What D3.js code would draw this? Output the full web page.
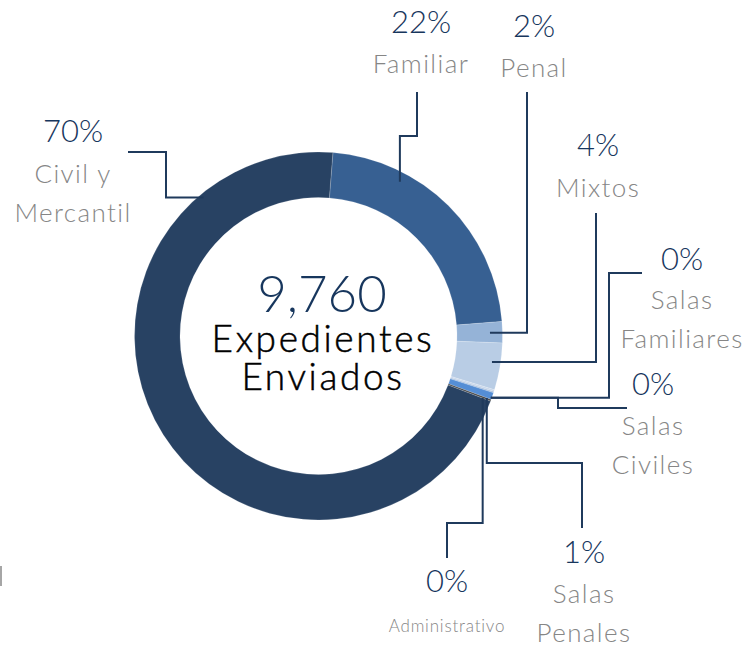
<!DOCTYPE html>
<html>
<head>
<meta charset="utf-8">
<script src="https://cdn.jsdelivr.net/npm/d3@7"></script>
<style>
  html, body { margin: 0; padding: 0; background: #fff; }
  svg { display: block; }
  .pct { fill: #17365d; font-family: Lato, sans-serif; font-weight: 300; }
  .name { fill: #868686; font-family: Lato, sans-serif; font-weight: 300; }
  .leader { fill: none; stroke: #1f3a5c; stroke-width: 2; }
</style>
</head>
<body>
<div class="svg-container"></div>
<script>
// data (total 9,760)
const categories = ["Familiar", "Penal", "Mixtos", "Salas Familiares", "Salas Civiles", "Salas Penales", "Administrativo", "Civil y Mercantil"];
const values = [2195, 182, 402, 15, 12, 60, 14, 6880];
const colors = ["#376092", "#95b3d7", "#b9cde5", "#c9d7ea", "#a7bedc", "#558ed5", "#404040", "#284263"];
const centerLines = ["Expedientes", "Enviados"];

const width = 751, height = 649;
const cx = 318.5, cy = 336;
const outerR = 184, innerR = 138.5;
const toRad = function(deg) { return deg * Math.PI / 180; };

// label layout: where each label sits and how its leader line runs
// anchor = point on the ring (deg clockwise from top, radius), steps = h/v moves
const labelLayout = {
  "Civil y Mercantil": {x: 73, pctY: 142, nameY: 183, wrap: 2, anchor: [320.3, 180], steps: [["h", 166], ["v", 152], ["h", 128]]},
  "Familiar": {x: 421, pctY: 33, nameY: 73, anchor: [27.8, 174.5], steps: [["v", 136], ["h", 417], ["v", 92]]},
  "Penal": {x: 534, pctY: 37, nameY: 77, anchor: [88.9, 171.5], steps: [["h", 527], ["v", 92]]},
  "Mixtos": {x: 598, pctY: 156, nameY: 197, anchor: [98.5, 175.4], steps: [["h", 596], ["v", 213]]},
  "Salas Familiares": {x: 682, pctY: 270, nameY: 309, wrap: 1, anchor: [109.7, 183], steps: [["h", 609], ["v", 273], ["h", 642]]},
  "Salas Civiles": {x: 653, pctY: 395, nameY: 435, wrap: 1, anchor: [109.7, 183], steps: [["h", 558], ["v", 408], ["h", 627]]},
  "Salas Penales": {x: 584, pctY: 563, nameY: 603, wrap: 1, anchor: [110.2, 179.3], steps: [["v", 463], ["h", 582], ["v", 528]]},
  "Administrativo": {x: 447, pctY: 592, nameY: 632, small: true, anchor: [110.7, 175.5], steps: [["v", 523], ["h", 447], ["v", 558]]}
};

const slices = categories.map(function(c, i) {
  return {category: c, value: values[i], color: colors[i]};
});
const total = d3.sum(values);

var svg = d3.select(".svg-container").append("svg")
  .attr("width", width)
  .attr("height", height);

// Familiar slice starts just right of 12 o'clock
var pie = d3.pie()
  .sort(null)
  .value(function(d) { return d.value; })
  .startAngle(toRad(4.5))
  .endAngle(toRad(4.5) + 2 * Math.PI);

var arc = d3.arc()
  .innerRadius(innerR)
  .outerRadius(outerR);

var donut = svg.append("g")
  .attr("transform", "translate(" + cx + "," + cy + ")");

donut.selectAll("path.slice")
  .data(pie(slices))
  .enter()
  .append("path")
  .attr("class", "slice")
  .attr("d", arc)
  .attr("fill", function(d) { return d.data.color; })
  .attr("stroke", "#ffffff")
  .attr("stroke-opacity", 0.35)
  .attr("stroke-width", 0.5);

// leader lines
function leaderPath(lay) {
  var a = toRad(lay.anchor[0]), r = lay.anchor[1];
  var x = cx + Math.sin(a) * r, y = cy - Math.cos(a) * r;
  var p = d3.path();
  p.moveTo(x, y);
  lay.steps.forEach(function(s) {
    if (s[0] === "h") { x = s[1]; } else { y = s[1]; }
    p.lineTo(x, y);
  });
  return p.toString();
}

svg.selectAll("path.leader")
  .data(slices)
  .enter()
  .append("path")
  .attr("class", "leader")
  .attr("d", function(d) { return leaderPath(labelLayout[d.category]); });

// labels
var pctFmt = d3.format(".0%");
var labels = svg.selectAll("g.label")
  .data(slices)
  .enter()
  .append("g")
  .attr("class", "label");

labels.append("text")
  .attr("class", "pct")
  .attr("text-anchor", "middle")
  .attr("x", function(d) { return labelLayout[d.category].x; })
  .attr("y", function(d) { return labelLayout[d.category].pctY; })
  .style("font-size", "31px")
  .text(function(d) { return pctFmt(d.value / total); });

labels.each(function(d) {
  var lay = labelLayout[d.category];
  var words = d.category.split(" ");
  var lines = lay.wrap ? [words.slice(0, lay.wrap).join(" "), words.slice(lay.wrap).join(" ")] : [d.category];
  d3.select(this).selectAll("text.name")
    .data(lines)
    .enter()
    .append("text")
    .attr("class", "name")
    .attr("text-anchor", "middle")
    .attr("x", lay.x)
    .attr("y", function(l, i) { return lay.nameY + i * 39; })
    .style("font-size", lay.small ? "17px" : "26px")
    .style("letter-spacing", lay.small ? "0.8px" : "1.4px")
    .text(function(l) { return l; });
});

// centre total
var centre = svg.append("g").attr("class", "centre");
centre.append("text")
  .attr("text-anchor", "middle")
  .attr("x", 322)
  .attr("y", 312)
  .style("font-family", "Lato, sans-serif")
  .style("font-weight", 300)
  .style("font-size", "51px")
  .style("fill", "#17365d")
  .text(d3.format(",")(total));

centre.selectAll("text.sub")
  .data(centerLines)
  .enter()
  .append("text")
  .attr("class", "sub")
  .attr("text-anchor", "middle")
  .attr("x", 323)
  .attr("y", function(d, i) { return 352 + i * 38; })
  .style("font-family", "Lato, sans-serif")
  .style("font-weight", 300)
  .style("font-size", "37px")
  .style("letter-spacing", "2.6px")
  .style("fill", "#000000")
  .style("stroke", "#000000")
  .style("stroke-width", 0.5)
  .text(function(d) { return d; });

// cropped fragment at the left edge of the original
svg.append("rect")
  .attr("x", 0).attr("y", 566)
  .attr("width", 2).attr("height", 20)
  .attr("fill", "#a6a6a6");
</script>
</body>
</html>
